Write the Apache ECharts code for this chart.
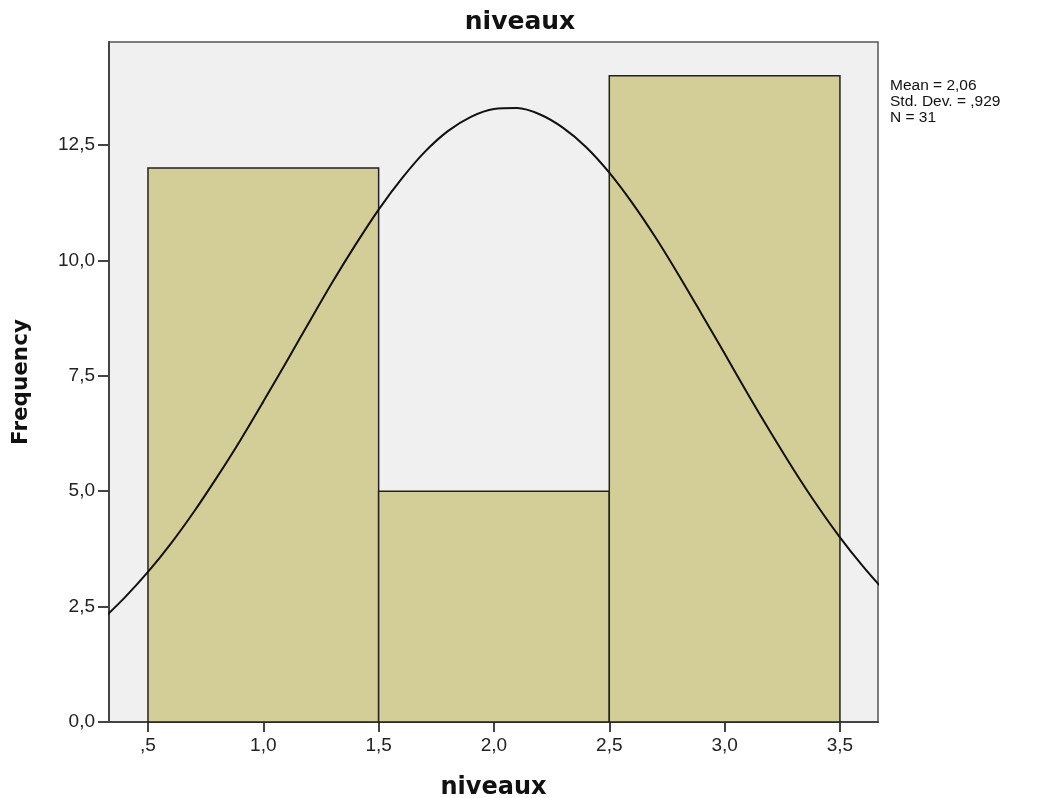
<!DOCTYPE html>
<html lang="fr">
<head>
    <meta charset="UTF-8">
    <title>niveaux</title>
    <script src="https://cdn.jsdelivr.net/npm/echarts@6/dist/echarts.min.js"></script>
    <style>
        html, body { margin: 0; padding: 0; background: #fff; }
        #chart { width: 1040px; height: 798px; }
    </style>
</head>
<body>
    <div id="chart"></div>

    <script>
        // histogram bins
        const binStarts = [0.5, 1.5, 2.5];
        const binEnds = [1.5, 2.5, 3.5];
        const counts = [12, 5, 14];

        // normal curve
        const curveX = [0.3, 0.4, 0.5, 0.6, 0.7, 0.8, 0.9, 1.0, 1.1, 1.2, 1.3, 1.4, 1.5, 1.6, 1.7, 1.8, 1.9, 2.0,
                        2.1, 2.2, 2.3, 2.4, 2.5, 2.6, 2.7, 2.8, 2.9, 3.0, 3.1, 3.2, 3.3, 3.4, 3.5, 3.6, 3.7];
        const curveY = [2.21, 2.70, 3.25, 3.87, 4.56, 5.31, 6.10, 6.94, 7.80, 8.67, 9.53, 10.34, 11.10, 11.77, 12.35, 12.80, 13.11, 13.28,
                        13.30, 13.16, 12.87, 12.45, 11.90, 11.24, 10.50, 9.69, 8.84, 7.98, 7.11, 6.27, 5.46, 4.70, 4.00, 3.37, 2.80];

        const xTicks = [0.5, 1.0, 1.5, 2.0, 2.5, 3.0, 3.5];
        const yTicks = [0, 2.5, 5, 7.5, 10, 12.5];
        const statsLines = ['Mean = 2,06', 'Std. Dev. = ,929', 'N = 31'];

        function fmt(v, dropZero) {
            let s = v.toFixed(1).replace('.', ',');
            if (dropZero && s.indexOf('0,') === 0) s = s.slice(1);
            return s;
        }

        var chartDom = document.getElementById('chart');
        var myChart = echarts.init(chartDom);
        var font = '"Liberation Sans", Arial, sans-serif';
        var boldFont = '"DejaVu Sans", Verdana, sans-serif';

        var option = {
            animation: false,
            textStyle: { fontFamily: font },
            graphic: [{
                type: 'text',
                left: 'center',
                x: 579,
                top: 10,
                style: {
                    text: 'niveaux',
                    x: 0,
                    font: 'bold 25px ' + boldFont,
                    fill: '#111'
                }
            }, {
                type: 'text',
                left: 890,
                top: 78,
                style: {
                    text: statsLines.join('\n'),
                    font: '15.5px ' + font,
                    lineHeight: 16,
                    fill: '#111'
                }
            }],
            grid: {
                left: 109,
                top: 42,
                width: 769,
                height: 680,
                outerBoundsMode: 'none',
                containLabel: false,
                show: true,
                backgroundColor: '#f0f0f0',
                borderColor: '#555',
                borderWidth: 1.5
            },
            xAxis: {
                type: 'value',
                min: 0.331,
                max: 3.665,
                name: 'niveaux',
                nameLocation: 'middle',
                nameGap: 54,
                nameTextStyle: { fontSize: 24, fontWeight: 'bold', color: '#111', fontFamily: boldFont },
                axisLine: { show: true, lineStyle: { color: '#444', width: 2 } },
                axisTick: { show: true, length: 10, customValues: xTicks, lineStyle: { color: '#444', width: 2 } },
                axisLabel: {
                    customValues: xTicks,
                    formatter: v => fmt(v, true),
                    fontSize: 19, color: '#222', margin: 14, fontFamily: font
                },
                splitLine: { show: false }
            },
            yAxis: {
                type: 'value',
                min: 0,
                max: 14.73,
                name: 'Frequency',
                nameLocation: 'middle',
                nameRotate: 90,
                nameGap: 77,
                nameTextStyle: { fontSize: 21.5, fontWeight: 'bold', color: '#111', fontFamily: boldFont },
                axisLine: { show: true, lineStyle: { color: '#444', width: 2 } },
                axisTick: { show: true, length: 11, customValues: yTicks, lineStyle: { color: '#444', width: 2 } },
                axisLabel: {
                    customValues: yTicks,
                    formatter: v => fmt(v, false),
                    fontSize: 19, color: '#222', margin: 14, fontFamily: font
                },
                splitLine: { show: false }
            },
            series: [{
                type: 'custom',
                data: counts.map((c, i) => [binStarts[i], binEnds[i], c]),
                renderItem: function (params, api) {
                    var p0 = api.coord([api.value(0), 0]);
                    var p1 = api.coord([api.value(1), api.value(2)]);
                    return {
                        type: 'rect',
                        shape: { x: p0[0], y: p1[1], width: p1[0] - p0[0], height: p0[1] - p1[1] },
                        style: { fill: '#d3ce97', stroke: '#222', lineWidth: 1.5 }
                    };
                },
                z: 2
            }, {
                type: 'line',
                data: curveX.map((x, i) => [x, curveY[i]]),
                smooth: 0.3,
                showSymbol: false,
                clip: true,
                lineStyle: { color: '#111', width: 2 },
                z: 3
            }]
        };
        myChart.setOption(option);
    </script>
</body>
</html>
